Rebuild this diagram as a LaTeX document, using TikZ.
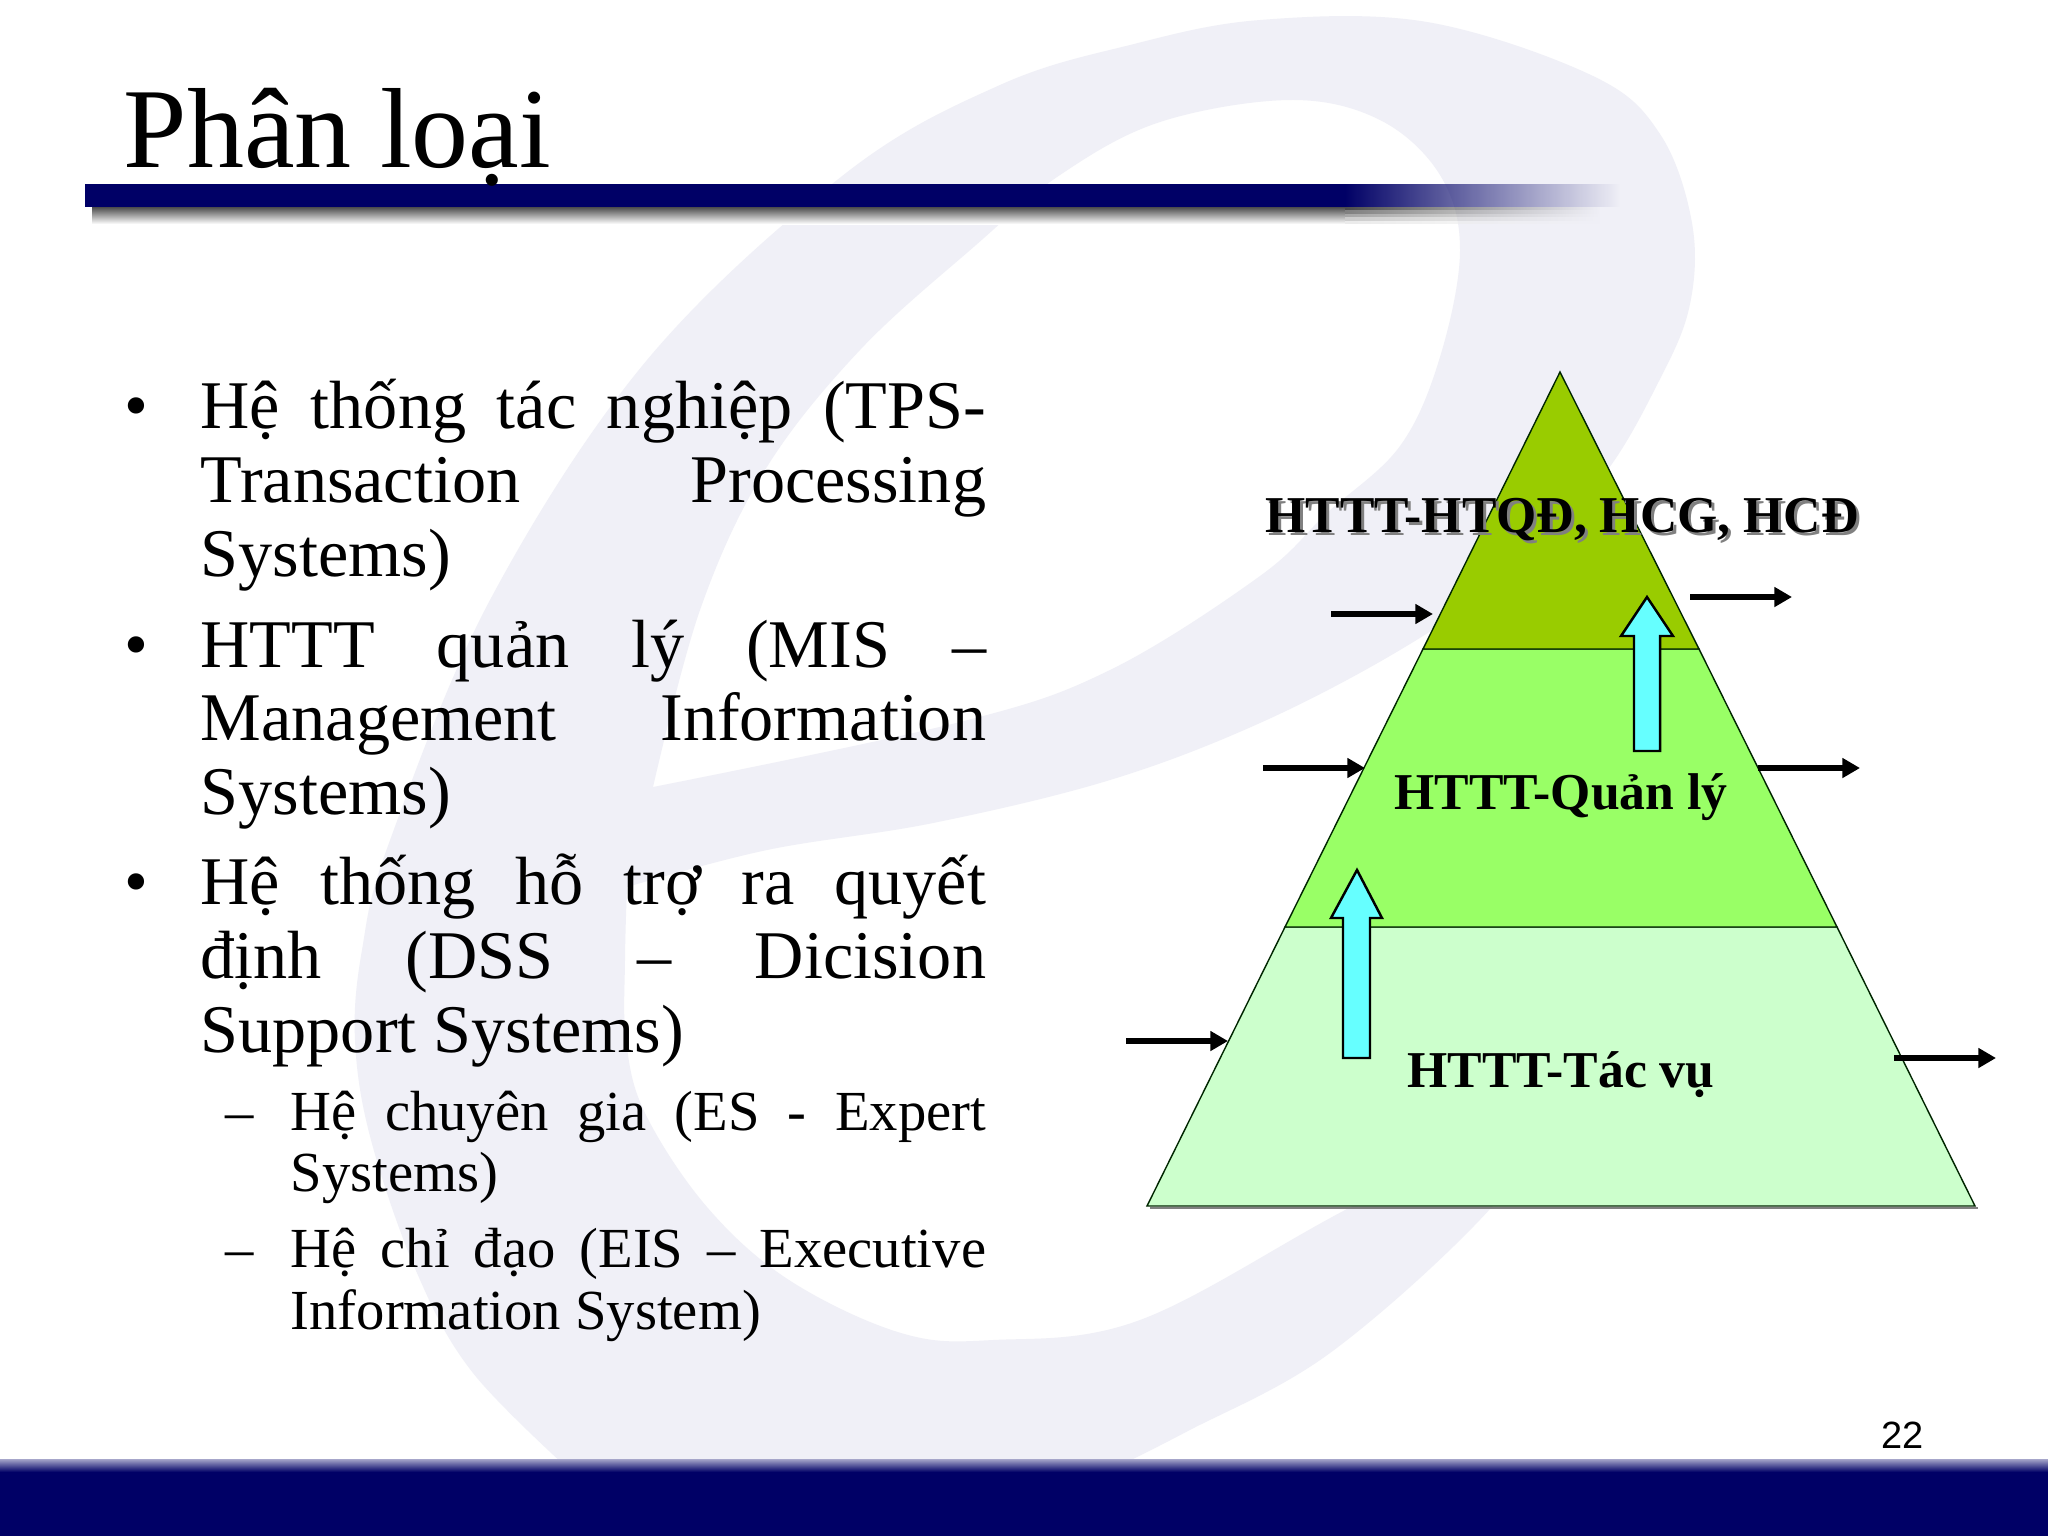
\documentclass[tikz,border=0pt]{standalone}
\usepackage{fontspec}
\setmainfont{Liberation Serif}
\newfontfamily\arialfont{Liberation Sans}
\usetikzlibrary{arrows.meta,fadings}
\definecolor{wm}{HTML}{F0F0F7}
\definecolor{navy}{HTML}{000066}
\definecolor{topg}{HTML}{99CC00}
\definecolor{midg}{HTML}{99FF66}
\definecolor{lowg}{HTML}{CCFFCC}
\definecolor{cyanb}{HTML}{66FFFF}
\newcommand{\fl}[1]{\makebox[7.85cm][s]{#1}}
\tikzfading[name=rulefade,left color=transparent!0,right color=transparent!100]
\tikzset{
  x=0.01cm,y=-0.01cm,
  titlet/.style={anchor=base west,inner sep=0pt,font=\fontsize{32.4}{34}\selectfont},
  bodyt/.style={anchor=base west,inner sep=0pt,font=\fontsize{19.4}{21}\selectfont},
  subt/.style={anchor=base west,inner sep=0pt,font=\fontsize{16.1}{18}\selectfont},
  labelt/.style={anchor=base,inner sep=0pt,font=\fontsize{14.7}{16}\selectfont\bfseries},
  tier/.style={draw=black!85!green,line width=0.4pt,line join=miter},
  smallarrow/.style={line width=1.7pt,-{Triangle[length=5pt,width=5.4pt]},shorten >=0pt},
  blockarrow/.style={draw=black,fill=cyanb,line width=0.7pt,line join=miter},
}
\begin{document}
\begin{tikzpicture}
\useasboundingbox (0,0) rectangle (2048,1536);
\fill[white] (0,0) rectangle (2048,1536);
% watermark
\fill[wm,even odd rule]
  plot[smooth,tension=0.6] coordinates {(575,1475) (473,1373) (417,1273) (371,1140) (355,1040) (362,950) (389,843) (490,600) (647,360) (846,173) (1000,85) (1130,45) (1260,20) (1427,22) (1593,76) (1660,134) (1692,223) (1690,304) (1660,379) (1600,480) (1500,580) (1400,650) (1260,723) (1110,780) (933,823) (767,850) (627,887)}
  -- plot[smooth,tension=0.6] coordinates {(627,887) (625,960) (626,1040) (645,1113) (707,1207) (789,1280) (901,1333) (993,1340) (1140,1320) (1347,1209) (1560,1100)}
  -- plot[smooth,tension=0.6] coordinates {(1560,1100) (1490,1209) (1330,1353) (1186,1432) (1100,1475)}
  -- cycle
  plot[smooth,tension=0.6] coordinates {(653,787) (700,610) (765,470) (860,350) (976,245) (1060,175) (1160,122) (1290,100) (1380,120) (1440,175) (1460,250) (1440,357) (1400,446) (1327,513) (1260,576) (1110,670) (960,722) (653,787)}
  -- cycle;
% title rule
\shade[top color=black!70,bottom color=white] (92,207) rectangle (1345,224);
\foreach \i/\g in {0/70,1/50,2/35,3/20,4/8}
  \fill[black!\g,path fading=rulefade] (1345,{207+3.4*\i}) rectangle (1600,{207+3.4*(\i+1)});
\fill[navy] (85,184) rectangle (1345,207);
\fill[navy,path fading=rulefade] (1345,184) rectangle (1620,207);
% footer
\fill[navy] (0,1466) rectangle (2048,1536);
\shade[top color=navy!35,bottom color=navy] (0,1459) rectangle (2048,1472);
% title
\node[titlet] (title) at (123,167) {Phân loại};
% bullets
\node[bodyt] (b1) at (124,428) {•};
\node[bodyt] (b2) at (124,667) {•};
\node[bodyt] (b3) at (124,904) {•};
\node[bodyt] (l1) at (200,428) {\fl{Hệ thống tác nghiệp (TPS-}};
\node[bodyt] (l2) at (200,502) {\fl{Transaction Processing}};
\node[bodyt] (l3) at (200,576) {Systems)};
\node[bodyt] (l4) at (200,667) {\fl{HTTT quản lý (MIS –}};
\node[bodyt] (l5) at (200,740) {\fl{Management Information}};
\node[bodyt] (l6) at (200,814) {Systems)};
\node[bodyt] (l7) at (200,904) {\fl{Hệ thống hỗ trợ ra quyết}};
\node[bodyt] (l8) at (200,978) {\fl{định (DSS – Dicision}};
\node[bodyt] (l9) at (200,1052) {Support Systems)};
\node[subt] (d1) at (225,1130) {–};
\node[subt] (d2) at (225,1267) {–};
\node[subt] (s1) at (290,1130) {\makebox[6.95cm][s]{Hệ chuyên gia (ES - Expert}};
\node[subt] (s2) at (290,1191) {Systems)};
\node[subt] (s3) at (290,1267) {\makebox[6.95cm][s]{Hệ chỉ đạo (EIS – Executive}};
\node[subt] (s4) at (290,1329) {Information System)};
% page number
\node[anchor=base west,inner sep=0pt,font=\arialfont\fontsize{10.8}{12}\selectfont] (num) at (1881,1448) {22};
% pyramid
\coordinate (apex) at (1560,372);
\coordinate (tl) at (1423,649);
\coordinate (tr) at (1699,649);
\coordinate (ml) at (1285,927);
\coordinate (mr) at (1837,927);
\coordinate (bl) at (1147,1206);
\coordinate (br) at (1975,1206);
\draw[line width=0.8pt,gray] ([yshift=-0.02cm,xshift=0.03cm]bl) -- ([yshift=-0.02cm,xshift=0.03cm]br);
\filldraw[tier,fill=lowg] (ml) -- (mr) -- (br) -- (bl) -- cycle;
\filldraw[tier,fill=midg] (tl) -- (tr) -- (mr) -- (ml) -- cycle;
\filldraw[tier,fill=topg] (apex) -- (tr) -- (tl) -- cycle;
% block arrows
\draw[blockarrow] (1647,597) -- (1673,636) -- (1660,636) -- (1660,751) -- (1634,751) -- (1634,636) -- (1621,636) -- cycle;
\draw[blockarrow] (1357,870) -- (1382,918) -- (1370,918) -- (1370,1058) -- (1343,1058) -- (1343,918) -- (1331,918) -- cycle;
% labels
\node[labelt,text=black!50] (top2) at (1565,535) {HTTT-HTQĐ, HCG, HCĐ};
\node[labelt] (top) at (1562,532) {HTTT-HTQĐ, HCG, HCĐ};
\node[labelt] (mid) at (1561,809) {HTTT-Quản lý};
\node[labelt] (low) at (1561,1087) {HTTT-Tác vụ};
% small arrows
\coordinate (a1s) at (1331,614); \coordinate (a1e) at (1433,614);
\coordinate (a2s) at (1690,597); \coordinate (a2e) at (1792,597);
\coordinate (a3s) at (1263,768); \coordinate (a3e) at (1365,768);
\coordinate (a4s) at (1758,768); \coordinate (a4e) at (1860,768);
\coordinate (a5s) at (1126,1041); \coordinate (a5e) at (1228,1041);
\coordinate (a6s) at (1894,1058); \coordinate (a6e) at (1996,1058);
\draw[smallarrow] (a1s) -- (a1e);
\draw[smallarrow] (a2s) -- (a2e);
\draw[smallarrow] (a3s) -- (a3e);
\draw[smallarrow] (a4s) -- (a4e);
\draw[smallarrow] (a5s) -- (a5e);
\draw[smallarrow] (a6s) -- (a6e);
\end{tikzpicture}
\end{document}
